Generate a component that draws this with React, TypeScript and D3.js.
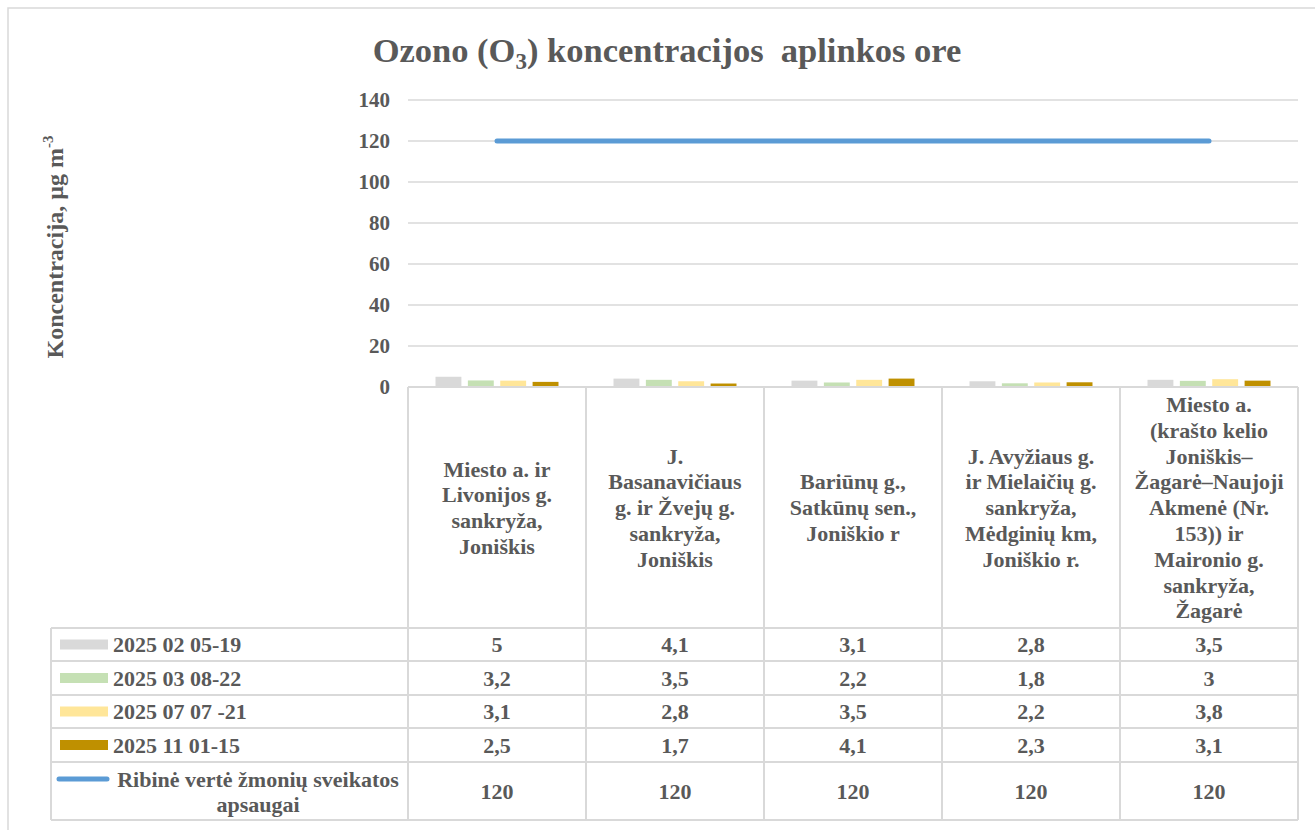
import React from "react";
import * as d3 from "d3";

const categoryLines: string[][] = [
  ["Miesto a. ir", "Livonijos g.", "sankryža,", "Joniškis"],
  ["J.", "Basanavičiaus", "g. ir Žvejų g.", "sankryža,", "Joniškis"],
  ["Bariūnų g.,", "Satkūnų sen.,", "Joniškio r"],
  ["J. Avyžiaus g.", "ir Mielaičių g.", "sankryža,", "Mėdginių km,", "Joniškio r."],
  ["Miesto a.", "(krašto kelio", "Joniškis–", "Žagarė–Naujoji", "Akmenė (Nr.", "153)) ir", "Maironio g.", "sankryža,", "Žagarė"],
];

const seriesNames = ["2025 02 05-19", "2025 03 08-22", "2025 07 07 -21", "2025 11 01-15"];
const seriesColors = ["#D9D9D9", "#C5E0B4", "#FFE699", "#BF9000"];
const s1 = [5, 4.1, 3.1, 2.8, 3.5];
const s2 = [3.2, 3.5, 2.2, 1.8, 3];
const s3 = [3.1, 2.8, 3.5, 2.2, 3.8];
const s4 = [2.5, 1.7, 4.1, 2.3, 3.1];
const seriesValues = [s1, s2, s3, s4];
const limitName = ["Ribinė vertė žmonių sveikatos", "apsaugai"];
const limitValues = [120, 120, 120, 120, 120];
const limitColor = "#5B9BD5";
const yTicks = [0, 20, 40, 60, 80, 100, 120, 140];

const W = 1315;
const H = 830;
const plotL = 408;
const plotR = 1298;
const plotT = 100;
const plotB = 387;
const tableL = 51;
const rowLines = [628, 661, 695, 728, 762, 820];
const textColor = "#595959";
const gridColor = "#D9D9D9";
const font = "Liberation Serif, Tinos, DejaVu Serif, serif";

const fmt = (v: number) => String(v).replace(".", ",");

export default function App() {
  const idx = categoryLines.map((_, i) => String(i));
  const x = d3.scaleBand<string>().domain(idx).range([plotL, plotR]);
  const xInner = d3
    .scaleBand<string>()
    .domain(seriesNames)
    .range([0, x.bandwidth()])
    .paddingInner(0.2)
    .paddingOuter(0.85);
  const y = d3.scaleLinear().domain([0, 140]).range([plotB, plotT]);

  const line = d3
    .line<number>()
    .x((_, i) => (x(String(i)) as number) + x.bandwidth() / 2)
    .y((d) => y(d));

  const headerMid = (plotB + rowLines[0]) / 2;
  const lineH = 25.8;

  return (
    <svg
      width={W}
      height={H}
      style={{ position: "absolute", left: 0, top: 0, display: "block", fontFamily: font, fontWeight: "bold" }}
    >
      <rect x={0} y={0} width={W} height={H} fill="#fff" />
      <rect x={8} y={8} width={W + 20} height={H + 20} fill="none" stroke={gridColor} strokeWidth={1.5} />

      {/* title */}
      <text x={667} y={62} textAnchor="middle" fontSize={34.5} fill={textColor} style={{ whiteSpace: "pre" }}>
        Ozono (O<tspan fontSize={23} dy={7}>3</tspan>
        <tspan dy={-7}>{") koncentracijos  aplinkos ore"}</tspan>
      </text>

      {/* axis title */}
      <text
        transform={`translate(63, 247) rotate(-90)`}
        textAnchor="middle"
        fontSize={24}
        fill={textColor}
      >
        Koncentracija, µg m<tspan fontSize={15} dy={-10}>-3</tspan>
      </text>

      {/* gridlines */}
      {yTicks.filter((t) => t > 0).map((t) => (
        <line key={t} x1={plotL} x2={plotR} y1={y(t)} y2={y(t)} stroke={gridColor} strokeWidth={1.5} />
      ))}
      {/* tick labels */}
      {yTicks.map((t) => (
        <text key={t} x={390} y={y(t)} dy="0.35em" textAnchor="end" fontSize={21} fill={textColor}>
          {t}
        </text>
      ))}

      {/* bars */}
      {seriesValues.map((vals, si) =>
        vals.map((v, ci) => (
          <rect
            key={`${si}-${ci}`}
            x={(x(String(ci)) as number) + (xInner(seriesNames[si]) as number)}
            y={y(v)}
            width={xInner.bandwidth()}
            height={plotB - y(v)}
            fill={seriesColors[si]}
          />
        ))
      )}

      {/* limit line */}
      <path d={line(limitValues) || ""} fill="none" stroke={limitColor} strokeWidth={5} strokeLinecap="round" />

      {/* table lines */}
      <g stroke={gridColor} strokeWidth={2} fill="none">
        <line x1={plotL} x2={plotR} y1={plotB} y2={plotB} />
        {rowLines.map((r) => (
          <line key={r} x1={tableL} x2={plotR} y1={r} y2={r} />
        ))}
        <line x1={tableL} x2={tableL} y1={rowLines[0]} y2={rowLines[rowLines.length - 1]} />
        {idx.map((c) => (
          <line key={c} x1={x(c) as number} x2={x(c) as number} y1={plotB} y2={rowLines[rowLines.length - 1]} />
        ))}
        <line x1={plotR} x2={plotR} y1={plotB} y2={rowLines[rowLines.length - 1]} />
      </g>

      {/* category headers */}
      {categoryLines.map((lines, ci) => {
        const cx = (x(String(ci)) as number) + x.bandwidth() / 2;
        const start = headerMid - ((lines.length - 1) * lineH) / 2;
        return (
          <text key={ci} textAnchor="middle" fontSize={22} fill={textColor}>
            {lines.map((l, li) => (
              <tspan key={li} x={cx} y={start + li * lineH} dy="0.35em">
                {l}
              </tspan>
            ))}
          </text>
        );
      })}

      {/* legend rows */}
      {seriesNames.map((name, si) => {
        const mid = (rowLines[si] + rowLines[si + 1]) / 2;
        return (
          <g key={name}>
            <rect x={60} y={mid - 5} width={48} height={10} fill={seriesColors[si]} />
            <text x={113} y={mid} dy="0.35em" fontSize={22} fill={textColor}>
              {name}
            </text>
            {seriesValues[si].map((v, ci) => (
              <text
                key={ci}
                x={(x(String(ci)) as number) + x.bandwidth() / 2}
                y={mid}
                dy="0.35em"
                textAnchor="middle"
                fontSize={22}
                fill={textColor}
              >
                {fmt(v)}
              </text>
            ))}
          </g>
        );
      })}
      {(() => {
        const mid = (rowLines[4] + rowLines[5]) / 2;
        return (
          <g>
            <line x1={59} x2={107} y1={mid - 12} y2={mid - 12} stroke={limitColor} strokeWidth={5} strokeLinecap="round" />
            <text textAnchor="middle" fontSize={22} fill={textColor}>
              <tspan x={258} y={mid - 12} dy="0.35em">{limitName[0]}</tspan>
              <tspan x={258} y={mid + 13} dy="0.35em">{limitName[1]}</tspan>
            </text>
            {limitValues.map((v, ci) => (
              <text
                key={ci}
                x={(x(String(ci)) as number) + x.bandwidth() / 2}
                y={mid}
                dy="0.35em"
                textAnchor="middle"
                fontSize={22}
                fill={textColor}
              >
                {fmt(v)}
              </text>
            ))}
          </g>
        );
      })()}
    </svg>
  );
}
